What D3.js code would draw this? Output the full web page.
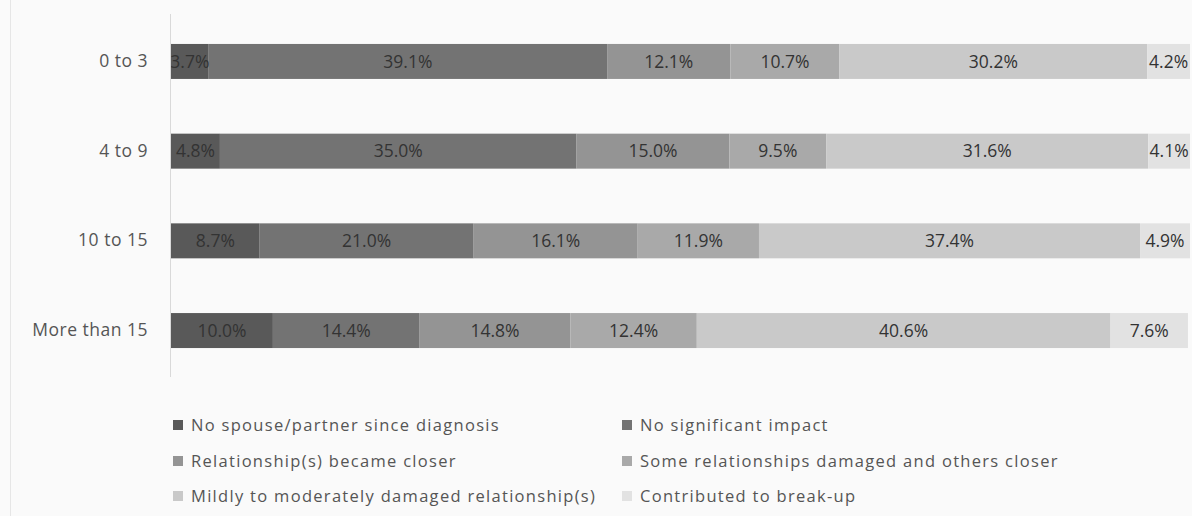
<!DOCTYPE html>
<html><head><meta charset="utf-8">
<script src="https://cdn.jsdelivr.net/npm/d3@7/dist/d3.min.js"></script>
<style>html,body{margin:0;padding:0;background:#fafafa;}svg{display:block;}</style>
</head><body>
<svg id="c" width="1192" height="516"></svg>
<script>
const categories = ["0 to 3", "4 to 9", "10 to 15", "More than 15"];
const seriesNames = ["No spouse/partner since diagnosis", "No significant impact", "Relationship(s) became closer", "Some relationships damaged and others closer", "Mildly to moderately damaged relationship(s)", "Contributed to break-up"];
const noSpouse = [3.7, 4.8, 8.7, 10.0];
const noImpact = [39.1, 35.0, 21.0, 14.4];
const closer = [12.1, 15.0, 16.1, 14.8];
const mixed = [10.7, 9.5, 11.9, 12.4];
const mildDamage = [30.2, 31.6, 37.4, 40.6];
const breakUp = [4.2, 4.1, 4.9, 7.6];
const colors = ["#595959", "#737373", "#949494", "#a9a9a9", "#c9c9c9", "#e2e2e2"];

const series = [noSpouse, noImpact, closer, mixed, mildDamage, breakUp];
const svg = d3.select("#c");
const font = "'Open Sans', 'Noto Sans', sans-serif";

svg.append("line").attr("x1", 10.5).attr("x2", 10.5).attr("y1", 0).attr("y2", 516).attr("stroke", "#e6e6e6");

const x = d3.scaleLinear().domain([0, 100]).range([171, 1190]);
const y = d3.scaleBand().domain(categories).range([16.6, 375.4]).paddingInner(0.61).paddingOuter(0.305);

const rows = categories.map((c, i) => {
  let acc = 0;
  return series.map((s, k) => { const v = s[i]; const r = {cat: c, k, v, x0: acc, x1: acc + v}; acc += v; return r; });
});

svg.append("line").attr("x1", 170.5).attr("x2", 170.5).attr("y1", 14).attr("y2", 377).attr("stroke", "#d9d9d9");

const g = svg.append("g");
rows.forEach(row => {
  g.selectAll(null).data(row).enter().append("rect")
    .attr("x", d => x(d.x0)).attr("width", d => x(d.x1) - x(d.x0))
    .attr("y", d => y(d.cat)).attr("height", y.bandwidth())
    .attr("fill", d => colors[d.k]);
});
const svgClip = svg.append("defs").append("clipPath").attr("id", "plotClip")
  .append("rect").attr("x", 171).attr("y", 0).attr("width", 1021).attr("height", 400);
const lg = svg.append("g").attr("clip-path", "url(#plotClip)");
rows.forEach(row => {
  lg.selectAll(null).data(row).enter().append("text")
    .attr("x", d => (x(d.x0) + x(d.x1)) / 2).attr("y", d => y(d.cat) + y.bandwidth() / 2)
    .attr("dy", "0.36em").attr("text-anchor", "middle")
    .attr("font-family", font).attr("font-size", 17.5).attr("fill", "#333")
    .text(d => d.v.toFixed(1) + "%");
});

svg.append("g").attr("transform", "translate(170,0)")
  .call(d3.axisLeft(y).tickSize(0).tickPadding(22))
  .call(a => a.select(".domain").remove())
  .selectAll("text").attr("font-family", font).attr("font-size", 17.5).attr("fill", "#555")
  .attr("letter-spacing", 0.5);

const legend = svg.append("g");
const legX = [173, 622], legY = [425, 461, 496];
seriesNames.forEach((n, i) => {
  const lx = legX[i % 2], ly = legY[Math.floor(i / 2)];
  legend.append("rect").attr("x", lx).attr("y", ly - 5).attr("width", 10).attr("height", 10).attr("fill", colors[i]);
  legend.append("text").attr("x", lx + 18).attr("y", ly).attr("dy", "0.36em")
    .attr("font-family", font).attr("font-size", 16.5).attr("fill", "#555")
    .attr("letter-spacing", 1.3).text(n);
});
</script>
</body></html>
